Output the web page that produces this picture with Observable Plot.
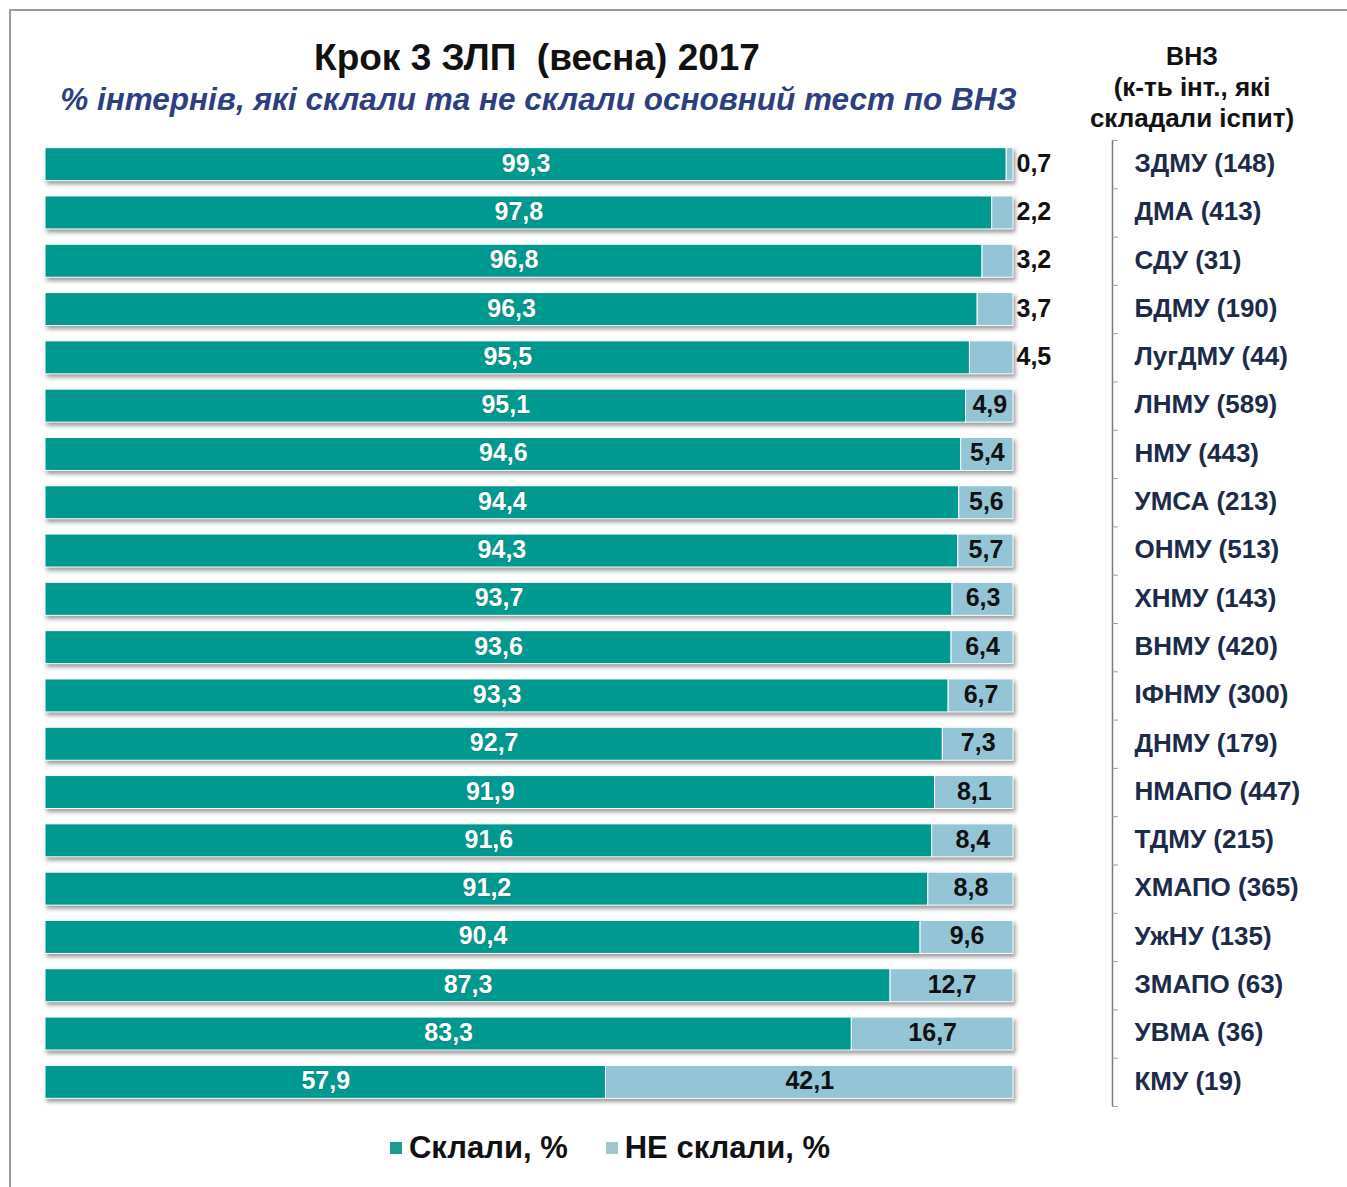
<!DOCTYPE html>
<html><head><meta charset="utf-8">
<script src="https://cdn.jsdelivr.net/npm/d3@7"></script>
<script src="https://cdn.jsdelivr.net/npm/@observablehq/plot@0.6"></script>
<style>
body{margin:0;background:#fff;font-family:"Liberation Sans",Arial,sans-serif;}
#wrap{position:relative;width:1347px;height:1187px;overflow:hidden;background:#fff;}
#frame{position:absolute;left:9px;top:9px;width:1400px;height:1300px;border-left:2px solid #9a9a9a;border-top:2px solid #9a9a9a;}
#chart{position:absolute;left:0;top:0;}
#title{position:absolute;left:0;width:1074px;top:37px;text-align:center;font-weight:bold;font-size:37px;color:#111;white-space:pre;}
#subtitle{position:absolute;left:0;width:1077px;top:81px;text-align:center;font-weight:bold;font-style:italic;font-size:31.5px;color:#2d3f80;}
#hdr{position:absolute;left:1072px;width:240px;top:41px;text-align:center;font-weight:bold;font-size:26px;line-height:31px;color:#111;}
#hdr .l1{font-size:25px;}
#legend{position:absolute;left:0;width:1220px;top:1130px;display:flex;justify-content:center;align-items:center;font-weight:bold;font-size:31px;color:#111;}
#legend span.sw{display:inline-block;width:12px;height:12px;margin-right:7px;}
#legend span.it{display:inline-flex;align-items:center;margin:0 19px;}
</style></head><body>
<div id="wrap">
  <div id="frame"></div>
  <div id="chart"></div>
  <div id="title">Крок 3 ЗЛП  (весна) 2017</div>
  <div id="subtitle">% інтернів, які склали та не склали основний тест по ВНЗ</div>
  <div id="hdr"><span class="l1">ВНЗ</span><br>(к-ть інт., які<br>складали іспит)</div>
  <div id="legend"></div>
</div>
<script>
const names = ["ЗДМУ (148)","ДМА (413)","СДУ (31)","БДМУ (190)","ЛугДМУ (44)","ЛНМУ (589)","НМУ (443)","УМСА (213)","ОНМУ (513)","ХНМУ (143)","ВНМУ (420)","ІФНМУ (300)","ДНМУ (179)","НМАПО (447)","ТДМУ (215)","ХМАПО (365)","УжНУ (135)","ЗМАПО (63)","УВМА (36)","КМУ (19)"];
const passed = [99.3,97.8,96.8,96.3,95.5,95.1,94.6,94.4,94.3,93.7,93.6,93.3,92.7,91.9,91.6,91.2,90.4,87.3,83.3,57.9];
const failed = [0.7,2.2,3.2,3.7,4.5,4.9,5.4,5.6,5.7,6.3,6.4,6.7,7.3,8.1,8.4,8.8,9.6,12.7,16.7,42.1];
const seriesNames = ["Склали, %","НЕ склали, %"];
const seriesColors = ["#00998f","#93c5d6"];

const rows = [];
names.forEach((n,i)=>{
  rows.push({name:n, series:seriesNames[0], value:passed[i], start:0});
  rows.push({name:n, series:seriesNames[1], value:failed[i], start:passed[i]});
});
const fmt = v => v.toFixed(1).replace(".", ",");

const W=1347, H=1110, mT=140, mB=4, mL=45, mR=235;
const step = (H-mT-mB)/names.length;
const barEndPx = 1013;
const xEnd = 100*(W-mR-mL)/(barEndPx-mL);
const font = '"Liberation Sans", Arial, sans-serif';

const teal = rows.filter(d=>d.series===seriesNames[0]);
const light = rows.filter(d=>d.series===seriesNames[1]);

const chart = Plot.plot({
  width: W, height: H,
  marginTop: mT, marginBottom: mB, marginLeft: mL, marginRight: mR,
  style: {fontFamily: font, background: "transparent", overflow: "visible"},
  x: {domain: [0, xEnd], axis: null},
  y: {domain: names, paddingInner: 0.317, paddingOuter: 0.1585, round: false},
  color: {domain: seriesNames, range: seriesColors},
  marks: [
    Plot.barX(rows, {y: "name", x: "value", fill: "series", order: seriesNames, stroke: "white", strokeWidth: 1}),
    Plot.text(teal, {y: "name", x: d => d.value/2, text: d => fmt(d.value), fill: "white",
      stroke: "#1e6b66", strokeWidth: 1, strokeOpacity: 0.5, fontSize: 25, fontWeight: "bold", dy: -1}),
    Plot.text(light.filter(d=>d.value>=4.8), {y: "name", x: d => d.start + d.value/2, text: d => fmt(d.value),
      fill: "#111", fontSize: 25, fontWeight: "bold", dy: -1}),
    Plot.text(light.filter(d=>d.value<4.8), {y: "name", x: d => d.start + d.value, text: d => fmt(d.value),
      fill: "#111", fontSize: 25, fontWeight: "bold", textAnchor: "start", dx: 3, dy: -1}),
    Plot.ruleX([xEnd], {stroke: "#7a7a7a", strokeWidth: 1.5}),
    Plot.ruleY(names, {y: d => d, x1: xEnd, x2: xEnd + 0.6, dy: -step/2, stroke: "#9a9a9a"}),
    Plot.ruleY(names.slice(-1), {y: d => d, x1: xEnd, x2: xEnd + 0.6, dy: step/2, stroke: "#9a9a9a"}),
    Plot.axisY({anchor: "right", tickSize: 0, tickPadding: 22, label: null, fontSize: 26, fontWeight: "bold", fill: "#1c2b4a", dy: -1})
  ]
});
chart.querySelectorAll('g[aria-label="bar"]').forEach(g => g.style.filter = "drop-shadow(2px 3px 2px rgba(0,0,0,0.4))");
document.getElementById("chart").appendChild(chart);

const lg = document.getElementById("legend");
seriesNames.forEach((s,i)=>{
  const it = document.createElement("span"); it.className="it";
  const sw = document.createElement("span"); sw.className="sw"; sw.style.background = i===0 ? "#1f9a8f" : "#a3c6cb";
  it.appendChild(sw); it.appendChild(document.createTextNode(s));
  lg.appendChild(it);
});
</script>
</body></html>
